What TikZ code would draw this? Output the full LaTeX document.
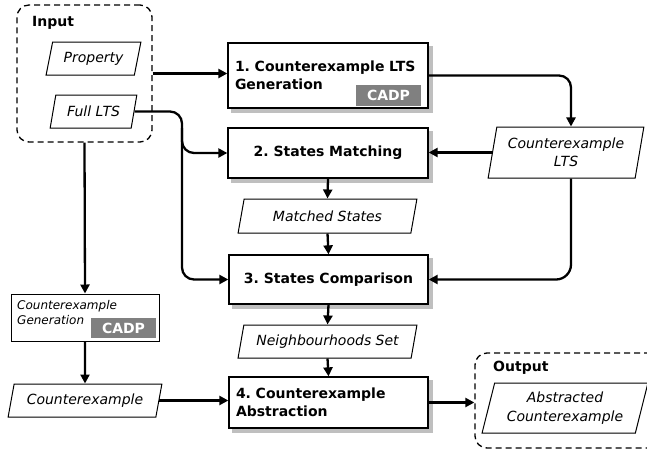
\documentclass[tikz,border=0pt]{standalone}
\usepackage{fontspec}
\setmainfont{DejaVu Sans}
\usetikzlibrary{shapes.geometric,arrows.meta,calc,backgrounds}
\frenchspacing
\begin{document}
\begin{tikzpicture}[x=1pt,y=-1pt,
  box/.style={draw=black, line width=1.3pt, fill=white, rectangle, inner sep=0pt,
    font=\fontsize{14}{18}\selectfont\bfseries},
  shadowfill/.style={fill=black!25},
  para/.style={draw=black, line width=1pt, fill=white, trapezium, trapezium stretches=true,
    trapezium left angle=70, trapezium right angle=110, inner sep=0pt,
    font=\fontsize{14}{18.5}\selectfont\itshape, align=center},
  cadp/.style={fill=black!50, text=white, inner sep=0pt, font=\fontsize{14}{14}\selectfont\bfseries},
  grp/.style={draw=black, line width=1.3pt, dash pattern=on 6pt off 4pt, rounded corners=12pt},
  conn/.style={line width=2.3pt, -{Triangle[length=9pt,width=9pt]}},
  lbl/.style={font=\fontsize{14}{14}\selectfont\bfseries, inner sep=0pt, anchor=west}]
\useasboundingbox (0,0) rectangle (647,450);
\clip (0,0) rectangle (647,450);
% groups
\node[grp, minimum width=135pt, minimum height=137pt] (input) at (84.5,73.5) {};
\node[lbl] (inlbl) at (32,23) {Input};
\node[grp, minimum width=187pt, minimum height=95pt] (output) at (568.5,400.5) {};
\node[lbl] (outlbl) at (493,368) {Output};
% inputs
\node[para, minimum width=95pt, minimum height=33pt] (prop) at (93.5,58.5) {Property};
\node[para, minimum width=87pt, minimum height=33pt] (fl) at (93.5,111.5) {Full LTS};
% main boxes
\node[box, minimum width=200pt, minimum height=65pt, text width=186pt, align=left] (b1) at (328,75.5) {1. Counterexample LTS\\Generation};
\node[cadp, minimum width=65pt, minimum height=21pt] (c1) at (388.5,95.5) {CADP};
\node[box, minimum width=200pt, minimum height=50pt] (b2) at (328,153) {2. States Matching};
\node[para, minimum width=179pt, minimum height=34pt] (ms) at (327.5,216) {Matched States};
\node[box, minimum width=199pt, minimum height=49pt] (b3) at (328.5,279.5) {3. States Comparison};
\node[para, minimum width=179pt, minimum height=33pt] (ns) at (327.5,341.5) {Neighbourhoods Set};
\node[box, minimum width=199pt, minimum height=51pt, text width=185pt, align=left] (b4) at (328.5,402.5) {4. Counterexample\\Abstraction};
% shadows
\begin{scope}[on background layer]
\foreach \b in {b1,b2,b3,b4}
  \fill[shadowfill] ($(\b.north west)+(4,4)$) rectangle ($(\b.south east)+(4,4)$);
\end{scope}
% right
\node[para, trapezium left angle=76, trapezium right angle=104, minimum width=156pt, minimum height=51pt] (celts) at (566,152.5) {Counterexample\\LTS};
\node[para, trapezium left angle=72, trapezium right angle=108, minimum width=166pt, minimum height=50pt] (abs) at (565,408) {Abstracted\\Counterexample};
% left
\node[draw=black, line width=1pt, fill=white, minimum width=148pt, minimum height=47pt, inner sep=0pt] (cg) at (85,317.5) {};
\node[font=\fontsize{12}{15}\selectfont\itshape, align=left, anchor=north west, inner sep=0pt] (cgt) at (17,300.5) {Counterexample\\Generation};
\node[cadp, minimum width=65pt, minimum height=20pt] (c2) at (123.5,328) {CADP};
\node[para, minimum width=154pt, minimum height=33pt] (ce) at (85,400.5) {Counterexample};
% connectors
\coordinate (bus) at (182,0);
\coordinate (cx) at (571,0);
\draw[conn] (input.east) -- (input.east -| b1.west);
\draw[conn, rounded corners=12pt] (b1.east) -- (b1.east -| cx) -- (cx |- celts.north);
\draw[conn] (celts.west) -- (celts.west -| b2.east);
\draw[conn, rounded corners=15pt] (cx |- celts.south) -- (cx |- b3.east) -- (b3.east);
\draw[conn, rounded corners=12pt] (fl.east) -- (fl.east -| bus) -- (bus |- b3.west) -- (b3.west);
\draw[conn, rounded corners=12pt] ($(bus |- b2.west)+(0,-25)$) -- (bus |- b2.west) -- (b2.west);
\draw[conn] (b2.south) -- (ms.north);
\draw[conn] (ms.south) -- (b3.north);
\draw[conn] (b3.south) -- (ns.north);
\draw[conn] (ns.south) -- (b4.north);
\draw[conn] (input.south) -- (cg.north);
\draw[conn] (cg.south) -- (ce.north);
\draw[conn] (ce.east) -- (ce.east -| b4.west);
\draw[conn] (b4.east) -- (b4.east -| output.west);
\end{tikzpicture}
\end{document}
